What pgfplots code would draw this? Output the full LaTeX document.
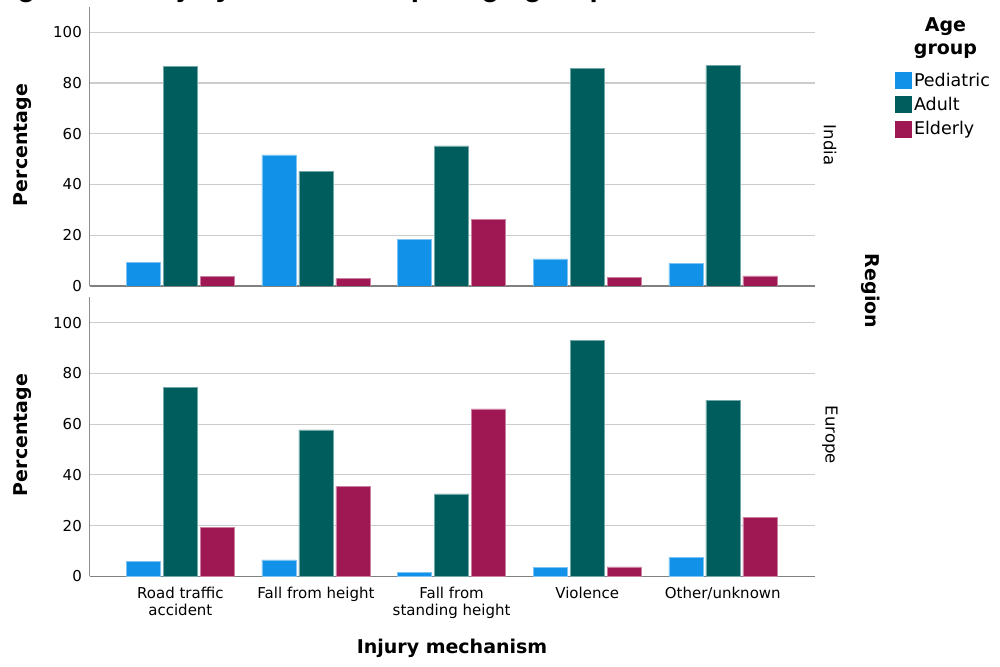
\documentclass[border=0pt]{standalone}
\usepackage{pgfplots}
\pgfplotsset{compat=1.18}
\usepackage{fontspec}
\setmainfont{DejaVu Sans}
\newfontfamily\titlefont{Liberation Sans}
\definecolor{cP}{HTML}{1192E8}
\definecolor{cA}{HTML}{005D5D}
\definecolor{cE}{HTML}{9F1853}
\pgfplotsset{
 panel/.style={
  at={(89.5pt,#1)}, anchor=south west,
  scale only axis, width=725.5pt, height=279pt,
  xmin=-0.67, xmax=4.68, ymin=0, ymax=110,
  ybar=3pt, bar width=34pt,
  xtick={0,...,4}, ytick={0,20,...,100},
  major tick length=0pt,
  axis x line*=bottom, axis y line*=left,
  x axis line style={-, draw=black!50, line width=1.5pt},
  y axis line style={-, draw=black!45, line width=1pt},
  ymajorgrids, grid style={draw=black!20, line width=1.2pt},
  yticklabel style={font=\fontsize{15}{17}\selectfont, anchor=east, inner sep=0pt, xshift=-7.5pt},
  /pgf/number format/assume math mode=true,
 },
 barP/.style={fill=cP, draw=cP!55!white, line width=0.6pt},
 barA/.style={fill=cA, draw=cA!55!white, line width=0.6pt},
 barE/.style={fill=cE, draw=cE!55!white, line width=0.6pt},
}
\begin{document}
\begin{tikzpicture}[x=1pt,y=1pt]
\useasboundingbox (0,0) rectangle (1000,666);
% top panel: India
\begin{axis}[panel=380pt,
  xticklabels={,,,,,},
  legend style={at={(1.110,0.771)}, anchor=north west, draw=none, fill=none, inner sep=0pt,
    row sep=5.5pt, font=\fontsize{17.5}{19}\selectfont,
    /tikz/every even column/.append style={column sep=8pt}},
  legend cell align=left,
  legend image code/.code={\fill[#1,draw=none] (0pt,-8.5pt) rectangle (17pt,8.5pt);},
]
\addplot[barP] coordinates {(0,9.3) (1,51.7) (2,18.5) (3,10.7) (4,8.9)};
\addplot[barA] coordinates {(0,86.5) (1,45.2) (2,55.2) (3,85.8) (4,86.9)};
\addplot[barE] coordinates {(0,3.9) (1,2.9) (2,26.1) (3,3.4) (4,4.0)};
\legend{Pediatric,Adult,Elderly}
\end{axis}
% bottom panel: Europe
\begin{axis}[panel=89.7pt,
  xticklabels={{Road traffic\\accident},{Fall from height},{Fall from\\standing height},{Violence},{Other/unknown}},
  xticklabel style={align=center, font=\fontsize{15}{17}\selectfont, anchor=north, inner sep=0pt, yshift=-11pt},
]
\addplot[barP] coordinates {(0,6.0) (1,6.5) (2,1.4) (3,3.4) (4,7.6)};
\addplot[barA] coordinates {(0,74.6) (1,57.7) (2,32.5) (3,93.0) (4,69.3)};
\addplot[barE] coordinates {(0,19.2) (1,35.6) (2,66.0) (3,3.7) (4,23.2)};
\end{axis}
% texts
\node[anchor=base west, inner sep=0pt, font=\titlefont\bfseries\fontsize{29.5}{30}\selectfont] at (-9,669) {Figure 3 — Injury mechanism per age group};
\node[rotate=90, font=\bfseries\fontsize{19}{21}\selectfont] at (22.5,521) {Percentage};
\node[rotate=90, font=\bfseries\fontsize{19}{21}\selectfont] at (22.5,231) {Percentage};
\node[rotate=-90, font=\fontsize{16.5}{18}\selectfont] at (830,521) {India};
\node[rotate=-90, font=\fontsize{16.5}{18}\selectfont] at (830,231) {Europe};
\node[rotate=-90, font=\bfseries\fontsize{19}{21}\selectfont] at (871,375) {Region};
\node[align=center, font=\bfseries\fontsize{19}{23}\selectfont] at (945.5,628) {Age\\group};
\node[font=\bfseries\fontsize{19}{21}\selectfont] at (452,18) {Injury mechanism};
\end{tikzpicture}
\end{document}
